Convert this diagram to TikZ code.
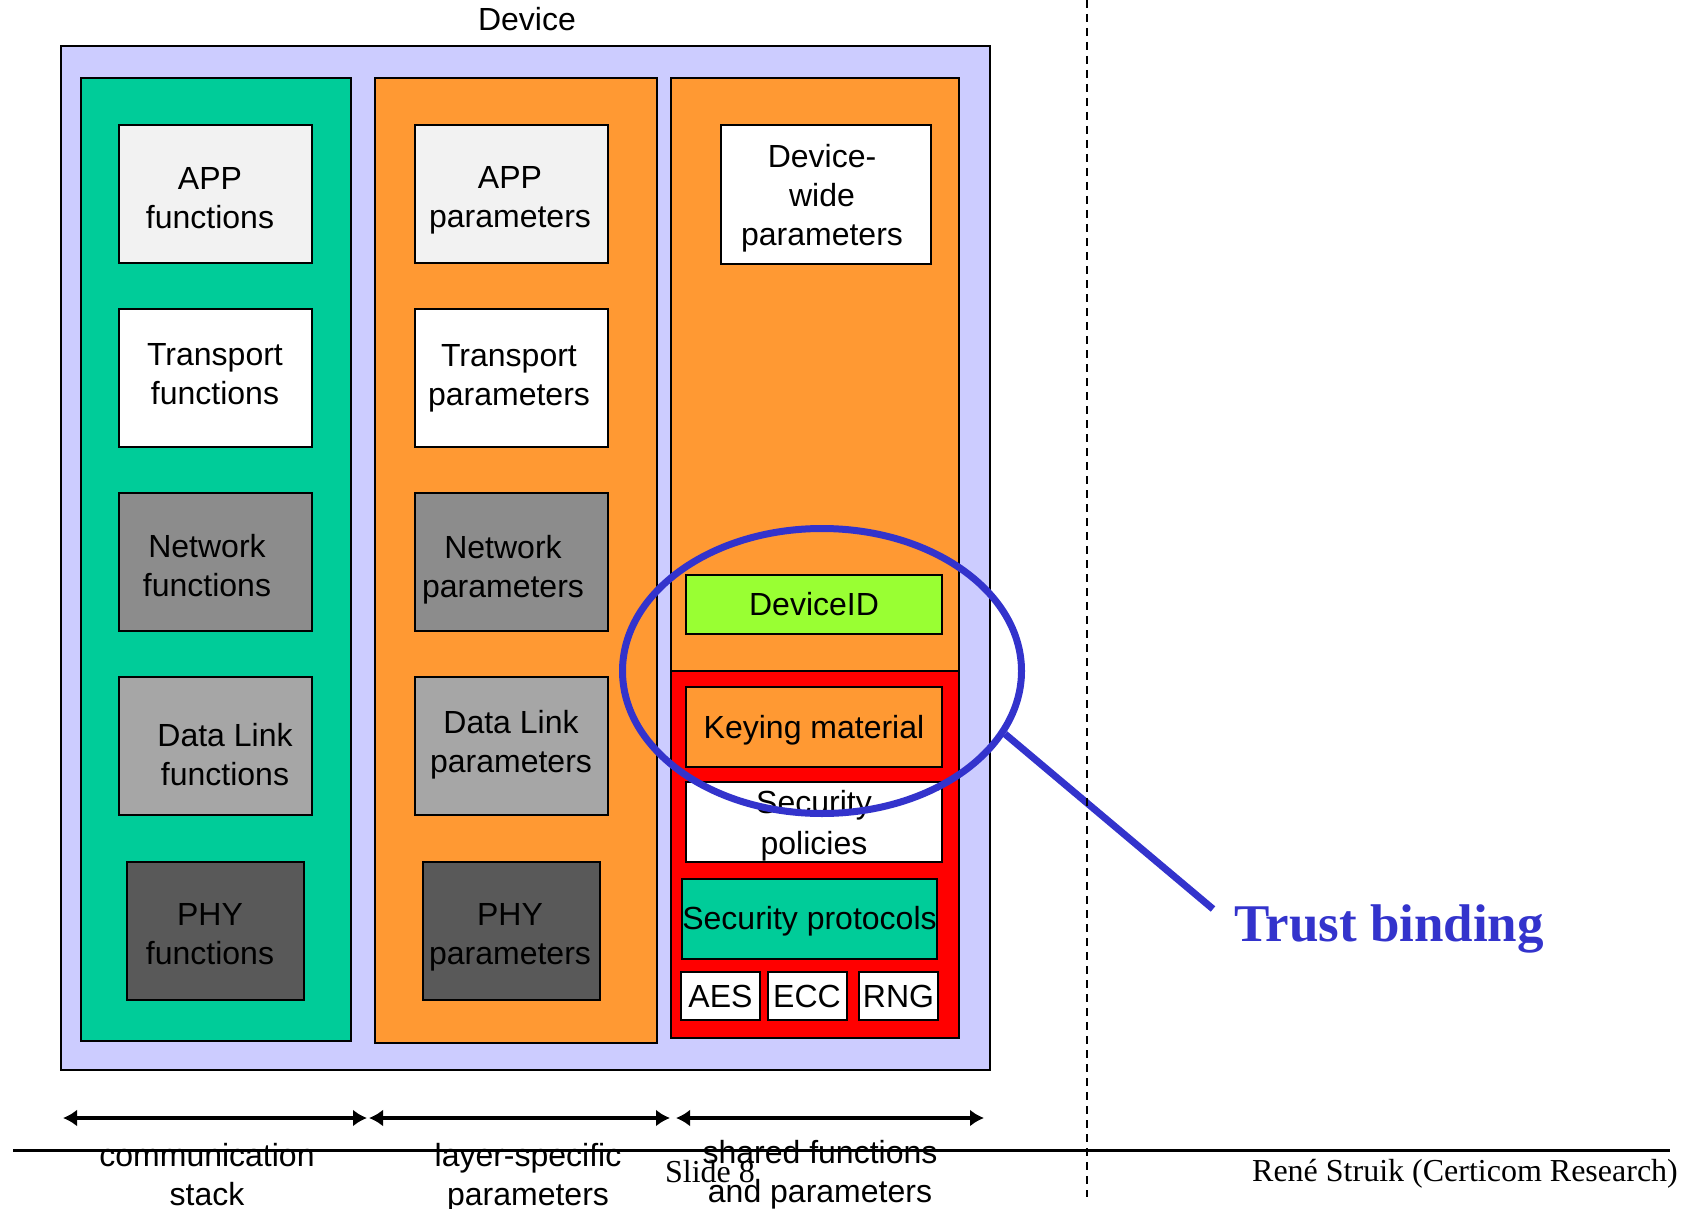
\documentclass[tikz,border=0pt]{standalone}
\usepackage{fontspec}
\setmainfont{Liberation Sans}
\newfontfamily\serifface{Liberation Serif}
\usetikzlibrary{arrows.meta,shapes.geometric}

\begin{document}
\begin{tikzpicture}[x=1pt,y=-1pt,font=\fontsize{32}{39}\selectfont,
  layerbox/.style={draw,line width=2pt,inner sep=0pt,minimum width=193pt,minimum height=138pt},
  keybox/.style={draw,line width=2pt,inner sep=0pt,text height=29pt,text depth=7pt,minimum width=256pt,minimum height=80pt},
  algbox/.style={draw,line width=2pt,fill=white,inner sep=0pt,text height=29pt,text depth=7pt,minimum width=79pt,minimum height=48pt},
  boxtext/.style={align=center,inner sep=0pt},
  spanarrow/.style={line width=4pt,{Latex[length=14pt,width=17pt]}-{Latex[length=14pt,width=17pt]}}]
\definecolor{lavender}{HTML}{CCCCFF}
\definecolor{stackgreen}{HTML}{00CC99}
\definecolor{paramorange}{HTML}{FF9933}
\definecolor{idlime}{HTML}{99FF33}
\definecolor{bindblue}{HTML}{3333CC}
\definecolor{appgrey}{HTML}{F2F2F2}
\definecolor{netgrey}{HTML}{8C8C8C}
\definecolor{linkgrey}{HTML}{A6A6A6}
\definecolor{phygrey}{HTML}{595959}
\useasboundingbox (0,0) rectangle (1686,1209);

% device frame with its three columns
\node (device) at (527,19) {Device};
\filldraw[fill=lavender,line width=2pt] (61,46) rectangle (990,1070);
\filldraw[fill=stackgreen,line width=2pt] (81,78) rectangle (351,1041);
\filldraw[fill=paramorange,line width=2pt] (375,78) rectangle (657,1043);
\filldraw[fill=paramorange,line width=2pt] (671,78) rectangle (959,671);
\filldraw[fill=red,line width=2pt] (671,671) rectangle (959,1038);

% one row per layer: functions left, parameters right (text nudged per box)
\foreach \lyr/\ypos/\crlr/\word/\bw/\fdx/\fdy/\pdx/\pdy in {%
    app/194/appgrey/APP/193/-5/4/-1/6,
    transport/378/white/Transport/193/0/-4/-2/0,
    network/562/netgrey/Network/193/-8/4/-8/8,
    datalink/746/linkgrey/Data Link/193/10/9/0/-1,
    phy/931/phygrey/PHY/177/-5/3/-1/6}
{ \node[layerbox,fill=\crlr,minimum width=\bw pt] (fn-\lyr) at (215,\ypos) {};
  \node[boxtext] (fn-\lyr-txt) at ([shift={(\fdx,\fdy)}]fn-\lyr.center) {\word\\functions};
  \node[layerbox,fill=\crlr,minimum width=\bw pt] (par-\lyr) at (511,\ypos) {};
  \node[boxtext] (par-\lyr-txt) at ([shift={(\pdx,\pdy)}]par-\lyr.center) {\word\\parameters};}

% shared column
\node[layerbox,fill=white,minimum width=210pt] (devwide) at (826,194.5) {};
\node[boxtext] (devwide-txt) at ([shift={(-4,4)}]devwide.center) {Device-\\wide\\parameters};
\node[keybox,fill=idlime,minimum height=59pt] (devid) at (814,604.5) {DeviceID};
\node[keybox,fill=paramorange] (keying) at (814,727) {Keying material};
\node[keybox,fill=white] (policies) at (814,822) {};
\node[boxtext] (policies-txt) at ([shift={(0,4)}]policies.center) {Security\\[2pt]policies};
\node[keybox,fill=stackgreen,minimum width=255pt] (protocols) at (809.5,918.5) {Security protocols};
\foreach \alg/\xpos in {AES/720.5,ECC/807,RNG/898.5}
  {\node[algbox] (\alg) at (\xpos,996) {\alg};}

% trust binding
\node[ellipse,draw=bindblue,line width=7pt,minimum width=399pt,minimum height=285pt] (bind) at (822,671) {};
\node[font=\serifface\bfseries\fontsize{53}{60}\selectfont,text=bindblue,anchor=base west,inner sep=0pt] (trust) at (1234,941) {Trust binding};
\coordinate (tip) at (1213,909);
\draw[bindblue,line width=7pt] (bind.-19) -- (tip);

% extent arrows and their labels
\foreach \from/\to/\nm in {63/367/stack,369/670/layer,676/984/shared}
{ \coordinate (\nm-l) at (\from,1118);
  \coordinate (\nm-r) at (\to,1118);
  \draw[spanarrow] (\nm-l) -- (\nm-r);}
\node[align=center] (stack-lbl) at (207,1175) {communication\\stack};
\node[align=center] (layer-lbl) at (528,1178) {layer-specific\\parameters};
\node[align=center] (shared-lbl) at (820,1175) {shared functions\\and parameters};

% slide footer
\draw[line width=2pt,dash pattern=on 8pt off 6pt] (1087,0) -- (1087,1197);
\draw[line width=3pt] (13,1150) -- (1670,1150);
\node[font=\serifface\fontsize{32}{38}\selectfont,anchor=base] (slide) at (710,1182) {Slide 8};
\node[font=\serifface\fontsize{32}{38}\selectfont,anchor=base east,inner sep=0pt] (author) at (1678,1181) {René Struik (Certicom Research)};
\end{tikzpicture}
\end{document}
